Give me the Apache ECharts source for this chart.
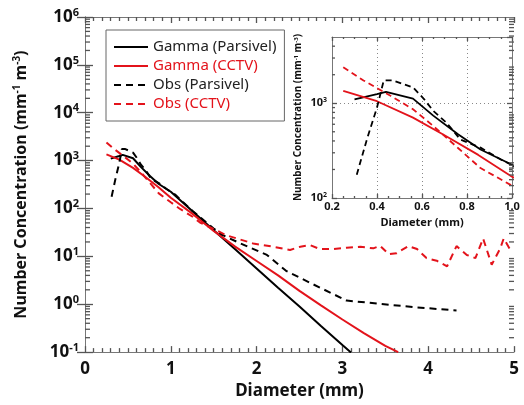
<!DOCTYPE html>
<html>
<head>
<meta charset="utf-8">
<script src="https://cdn.jsdelivr.net/npm/echarts@6/dist/echarts.min.js"></script>
<style>
  html, body { margin: 0; padding: 0; background: #fff; }
  #chart { width: 524px; height: 405px; }
</style>
</head>
<body>
<div id="chart"></div>
<script>
// diameters (mm) and number concentrations
var gammaParsD = [0.3, 0.4, 0.44, 0.56, 0.65, 0.76, 0.86, 1.0, 1.25, 1.5, 1.75, 2.0, 2.25, 2.5, 2.75, 3.0, 3.1];
var gammaParsN = [1100, 1250, 1320, 1120, 740, 470, 325, 224, 89, 35, 14, 5.6, 2.2, 0.9, 0.35, 0.14, 0.098];

var gammaCctvD = [0.25, 0.4, 0.56, 0.7, 0.85, 1.0, 1.25, 1.5, 1.75, 2.0, 2.25, 2.5, 2.75, 3.0, 3.25, 3.5, 3.65];
var gammaCctvN = [1350, 1050, 705, 460, 285, 168, 78, 34, 16, 8.0, 4.0, 1.9, 0.95, 0.48, 0.25, 0.135, 0.1];

var obsParsD = [0.31, 0.355, 0.4, 0.43, 0.47, 0.56, 0.61, 0.65, 0.71, 0.77, 0.86, 0.95, 1.05, 1.25, 1.5, 1.6, 1.81, 2.12, 2.35, 2.66, 3.05, 3.44, 3.83, 4.33];
var obsParsN = [176, 415, 900, 1740, 1740, 1470, 1100, 830, 620, 415, 340, 255, 195, 90, 38, 28, 18.7, 10.7, 4.9, 2.6, 1.19, 1.02, 0.87, 0.74];

var obsCctvD = [0.25, 0.34, 0.46, 0.56, 0.65, 0.76, 0.86, 1.0, 1.1, 1.25, 1.34, 1.49, 1.65, 1.77, 1.96, 2.19, 2.39, 2.51, 2.62, 2.74, 2.89, 3.05, 3.21, 3.36, 3.44, 3.54, 3.63, 3.77, 3.87, 3.98, 4.1, 4.22, 4.33, 4.45, 4.55, 4.64, 4.74, 4.84, 4.88, 4.97];
var obsCctvN = [2400, 1740, 1200, 865, 575, 337, 207, 135, 100, 68, 51, 38, 27.5, 23.6, 18.6, 15.9, 13.6, 15.9, 17.2, 14.2, 14.2, 15.1, 15.9, 14.7, 16.6, 11.1, 11.6, 16.4, 14.2, 9.2, 8.1, 6.2, 16.4, 10.7, 9.2, 23.6, 6.7, 14.7, 23.6, 12.5];

var seriesNames = ['Gamma (Parsivel)', 'Gamma (CCTV)', 'Obs (Parsivel)', 'Obs (CCTV)'];

// log minor tick positions
var mainDecades = [-1, 0, 1, 2, 3, 4, 5];
var insetDecades = [2, 3];
var minorMults = [2, 3, 4, 5, 6, 7, 8, 9];

var RED = '#e3131b';
var FONT = 'Noto Sans';
var TICK_GRAY = '#555';

function pairs(xs, ys) {
    var out = [];
    for (var i = 0; i < xs.length; i++) out.push([xs[i], ys[i]]);
    return out;
}

function minorVals(decades, hi, x0) {
    var out = [];
    decades.forEach(function (e) {
        minorMults.forEach(function (m) {
            var v = m * Math.pow(10, e);
            if (v < hi) out.push([x0, v]);
        });
    });
    return out;
}

function powLabel(v) {
    var e = Math.log10(v);
    if (Math.abs(e - Math.round(e)) > 1e-6) return '';
    return '{b|10}{s|' + Math.round(e) + '}';
}

var chart = echarts.init(document.getElementById('chart'));

var lineDefs = [
    { d: pairs(gammaParsD, gammaParsN), color: '#000', type: 'solid' },
    { d: pairs(gammaCctvD, gammaCctvN), color: RED, type: 'solid' },
    { d: pairs(obsParsD, obsParsN), color: '#000', type: [7, 5] },
    { d: pairs(obsCctvD, obsCctvN), color: RED, type: [7, 5] }
];

var series = [];
lineDefs.forEach(function (l, i) {
    // main panel
    series.push({
        name: seriesNames[i], type: 'line', xAxisIndex: 0, yAxisIndex: 0,
        data: l.d, showSymbol: false, symbol: 'none',
        lineStyle: { color: l.color, width: 2, type: l.type },
        itemStyle: { color: l.color }, z: 3
    });
    // inset panel
    series.push({
        name: seriesNames[i], type: 'line', xAxisIndex: 2, yAxisIndex: 2,
        data: l.d, showSymbol: false, symbol: 'none', clip: true,
        lineStyle: { color: l.color, width: 1.8, type: l.type === 'solid' ? 'solid' : [6, 4] },
        itemStyle: { color: l.color }, z: 3
    });
});

// log minor ticks on both sides of a panel, placed through the y scale
function minorTickSeries(xi, yi, vals, x0, x1, len) {
    return {
        type: 'custom', xAxisIndex: xi, yAxisIndex: yi, silent: true, clip: false, z: 4,
        encode: { x: 0, y: 1 },
        data: vals,
        renderItem: function (params, api) {
            var v = api.value(1);
            var l = api.coord([x0, v]);
            var r = api.coord([x1, v]);
            var st = { stroke: TICK_GRAY, lineWidth: 1.3 };
            return {
                type: 'group', children: [
                    { type: 'line', shape: { x1: l[0], y1: l[1], x2: l[0] + len, y2: l[1] }, style: st },
                    { type: 'line', shape: { x1: r[0] - len, y1: r[1], x2: r[0], y2: r[1] }, style: st }
                ]
            };
        }
    };
}
series.push(minorTickSeries(0, 0, minorVals(mainDecades, 1e6, 1), 0, 5, 5));
series.push(minorTickSeries(2, 2, minorVals(insetDecades, 5000, 0.5), 0.2, 1.0, 3));

var bigRich = {
    b: { fontSize: 17, fontWeight: 'bold', fontFamily: FONT, color: '#111' },
    s: { fontSize: 11, fontWeight: 'bold', fontFamily: FONT, color: '#111', padding: [0, 0, 9, 0] }
};
var smallRich = {
    b: { fontSize: 11, fontWeight: 'bold', fontFamily: FONT, color: '#111' },
    s: { fontSize: 7, fontWeight: 'bold', fontFamily: FONT, color: '#111', padding: [0, 0, 6, 0] }
};

function tick(len) { return { show: true, inside: true, length: len, lineStyle: { color: TICK_GRAY, width: 1.3 } }; }
function minor(n, len) { return { show: true, splitNumber: n, length: len, lineStyle: { color: TICK_GRAY, width: 1.3 } }; }
function axLine() { return { show: true, lineStyle: { color: '#777', width: 1 } }; }

var option = {
    backgroundColor: '#fff',
    animation: false,
    grid: [
        { left: 85, right: 10, top: 17, bottom: 46 },
        { left: 332, right: 12, top: 37, bottom: 207, show: true, backgroundColor: '#fff', borderWidth: 0 }
    ],
    legend: {
        left: 106, top: 30, orient: 'vertical',
        padding: [8, 8, 8, 7], itemGap: 1,
        itemWidth: 34, itemHeight: 12,
        borderColor: '#666', borderWidth: 1, backgroundColor: '#fff',
        itemStyle: { color: 'rgba(0,0,0,0)', borderWidth: 0, opacity: 0 },
        lineStyle: { width: 2 },
        textStyle: { fontSize: 15, fontFamily: FONT, lineHeight: 18 },
        data: [
            { name: seriesNames[0], textStyle: { color: '#222' } },
            { name: seriesNames[1], textStyle: { color: RED } },
            { name: seriesNames[2], textStyle: { color: '#222' } },
            { name: seriesNames[3], textStyle: { color: RED } }
        ]
    },
    xAxis: [
        {
            gridIndex: 0, type: 'value', min: 0, max: 5, interval: 1, position: 'bottom',
            name: 'Diameter (mm)', nameLocation: 'middle', nameGap: 30,
            nameTextStyle: { fontSize: 17, fontWeight: 'bold', fontFamily: FONT, color: '#111' },
            axisLine: axLine(), axisTick: tick(6), minorTick: minor(10, 4),
            axisLabel: { fontSize: 17, fontWeight: 'bold', fontFamily: FONT, color: '#111', margin: 9 },
            splitLine: { show: false }
        },
        {
            gridIndex: 0, type: 'value', min: 0, max: 5, interval: 1, position: 'top',
            axisLine: axLine(), axisTick: tick(6), minorTick: minor(10, 4),
            axisLabel: { show: false }, splitLine: { show: false }
        },
        {
            gridIndex: 1, type: 'value', min: 0.2, max: 1.0, interval: 0.2, position: 'bottom',
            name: 'Diameter (mm)', nameLocation: 'middle', nameGap: 19,
            nameTextStyle: { fontSize: 11, fontWeight: 'bold', fontFamily: FONT, color: '#111' },
            axisLine: axLine(), axisTick: tick(4), minorTick: minor(4, 2),
            axisLabel: {
                fontSize: 11, fontWeight: 'bold', fontFamily: FONT, color: '#111', margin: 3,
                formatter: function (v) { return v.toFixed(1); }
            },
            splitLine: { show: true, lineStyle: { color: '#888', type: [1, 3] } }
        },
        {
            gridIndex: 1, type: 'value', min: 0.2, max: 1.0, interval: 0.2, position: 'top',
            axisLine: axLine(), axisTick: tick(4), minorTick: minor(4, 2),
            axisLabel: { show: false }, splitLine: { show: false }
        }
    ],
    yAxis: [
        {
            gridIndex: 0, type: 'log', logBase: 10, min: 0.1, max: 1e6, position: 'left',
            name: '{a|Number Concentration (mm}{s|-1}{a| m}{s|-3}{a|)}',
            nameLocation: 'middle', nameGap: 54,
            nameTextStyle: {
                rich: {
                    a: { fontSize: 16, fontWeight: 'bold', fontFamily: FONT, color: '#111' },
                    s: { fontSize: 10, fontWeight: 'bold', fontFamily: FONT, color: '#111', padding: [0, 0, 9, 0] }
                }
            },
            axisLine: axLine(), axisTick: tick(8),
            axisLabel: { formatter: powLabel, rich: bigRich, margin: 6 },
            splitLine: { show: false }
        },
        {
            gridIndex: 0, type: 'log', logBase: 10, min: 0.1, max: 1e6, position: 'right',
            axisLine: axLine(), axisTick: tick(8),
            axisLabel: { show: false }, splitLine: { show: false }
        },
        {
            gridIndex: 1, type: 'log', logBase: 10, min: 100, max: 5000, position: 'left',
            name: '{a|Number Concentration (mm}{s|-1}{a| m}{s|-3}{a|)}',
            nameLocation: 'middle', nameGap: 28,
            nameTextStyle: {
                rich: {
                    a: { fontSize: 10, fontWeight: 'bold', fontFamily: FONT, color: '#111' },
                    s: { fontSize: 6, fontWeight: 'bold', fontFamily: FONT, color: '#111', padding: [0, 0, 5, 0] }
                }
            },
            axisLine: axLine(), axisTick: tick(5),
            axisLabel: { formatter: powLabel, rich: smallRich, margin: 5, showMaxLabel: false },
            splitLine: { show: true, lineStyle: { color: '#888', type: [1, 3] } }
        },
        {
            gridIndex: 1, type: 'log', logBase: 10, min: 100, max: 5000, position: 'right',
            axisLine: axLine(), axisTick: tick(5),
            axisLabel: { show: false }, splitLine: { show: false }
        }
    ],
    series: series
};

chart.setOption(option);
</script>
</body>
</html>
